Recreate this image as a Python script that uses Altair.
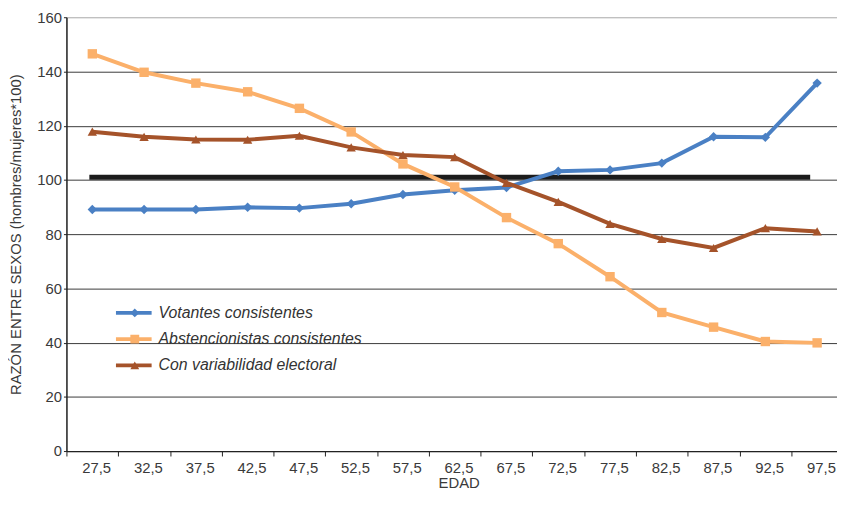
import altair as alt
import pandas as pd

edad = [27.5, 32.5, 37.5, 42.5, 47.5, 52.5, 57.5, 62.5,
        67.5, 72.5, 77.5, 82.5, 87.5, 92.5, 97.5]
votantes = [89.1, 89.1, 89.1, 89.9, 89.6, 91.2, 94.6, 96.2,
            97.2, 103.2, 103.7, 106.2, 115.9, 115.7, 135.7]
abstencionistas = [146.5, 139.7, 135.7, 132.5, 126.4, 117.7, 105.9, 97.4,
                   86.1, 76.5, 64.3, 51.1, 45.7, 40.4, 39.9]
variabilidad = [117.8, 115.9, 114.9, 114.8, 116.3, 112.0, 109.2, 108.4,
                98.9, 91.9, 83.8, 78.2, 74.9, 82.2, 81.0]
series = ["Votantes consistentes", "Abstencionistas consistentes", "Con variabilidad electoral"]
colores = ["#4a80c4", "#fbb06a", "#a5532a"]
formas = ["diamond", "square", "triangle-up"]
referencia = 101
y_ticks = [0, 20, 40, 60, 80, 100, 120, 140, 160]
x_ticks = [e - 2.5 for e in edad]          # band edges (25, 30, ... 95)

rows = []
for name, vals in zip(series, [votantes, abstencionistas, variabilidad]):
    for e, v in zip(edad, vals):
        rows.append({"edad": e, "serie": name, "valor": v})
df = pd.DataFrame(rows)
ref_df = pd.DataFrame({"inicio": [edad[0]], "fin": [edad[-1]], "valor": [referencia]})

FONT = "Liberation Sans"
TXT = "#3a3a3a"

x_scale = alt.Scale(domain=[25, 99.42], nice=False, zero=False)
y_scale = alt.Scale(domain=[0, 160], nice=False)

x_axis = alt.Axis(title="EDAD", values=x_ticks, tickSize=5, tickColor="#222",
                  domainColor="#222", domainWidth=1.2, labelAngle=0, labelFont=FONT,
                  labelFontSize=15, labelColor=TXT, labelPadding=5, labelOffset=30,
                  labelFlush=False, labelOverlap=False, labelBound=False,
                  labelExpr="replace(format(datum.value + 2.5, '.1f'), '.', ',')",
                  grid=False, titleFont=FONT, titleFontSize=15, titleFontWeight="normal",
                  titleColor=TXT, titlePadding=0, titleX=396)
y_axis = alt.Axis(title="RAZÓN ENTRE SEXOS (hombres/mujeres*100)", values=y_ticks,
                  tickSize=3, tickColor="#222", domainColor="#222", domainWidth=1.5,
                  labelFont=FONT, labelFontSize=15, labelColor=TXT, labelPadding=2,
                  grid=True, gridWidth=1,
                  gridColor={"condition": {"test": "datum.value === 160", "value": "#b5b5b5"},
                             "value": "#3a3a3a"},
                  titleFont=FONT, titleFontSize=15, titleFontWeight="normal",
                  titleColor=TXT, titlePadding=13)

color_scale = alt.Scale(domain=series, range=colores)
shape_scale = alt.Scale(domain=series, range=formas)

common_legend = dict(orient="none", legendX=48, legendY=290.5, title=None, padding=0,
                     labelFont=FONT, labelFontSize=16, labelFontStyle="italic",
                     labelColor="#333", rowPadding=10.5, clipHeight=16, labelLimit=0)

line_legend = alt.Legend(symbolType="stroke", symbolSize=1296, symbolStrokeWidth=4,
                         labelOffset=5, **common_legend)
point_legend = alt.Legend(symbolSize=80, symbolStrokeWidth=0, symbolOffset=13,
                          labelOffset=15, labelOpacity=0, **common_legend)

base = alt.Chart(df)

ref = alt.Chart(ref_df).mark_rule(color="#1c1c1c", strokeWidth=5, xOffset=-3, x2Offset=-7).encode(
    x=alt.X("inicio:Q", scale=x_scale, axis=x_axis),
    x2="fin:Q",
    y=alt.Y("valor:Q", scale=y_scale, axis=y_axis),
)

lines = base.mark_line(strokeWidth=4).encode(
    x=alt.X("edad:Q", scale=x_scale, axis=x_axis),
    y=alt.Y("valor:Q", scale=y_scale, axis=y_axis),
    color=alt.Color("serie:N", scale=color_scale, sort=series, legend=line_legend),
)

points = base.mark_point(filled=True, size=90, opacity=1).encode(
    x=alt.X("edad:Q", scale=x_scale, axis=x_axis),
    y=alt.Y("valor:Q", scale=y_scale, axis=y_axis),
    color=alt.Color("serie:N", scale=color_scale, sort=series, legend=point_legend),
    shape=alt.Shape("serie:N", scale=shape_scale, sort=series, legend=point_legend),
)

chart = alt.layer(ref, lines, points).resolve_legend(
    color="independent", shape="independent"
).properties(
    width=778, height=438,
    autosize=alt.AutoSizeParams(type="none"),
    padding={"left": 59, "top": 7, "right": 0, "bottom": 37},
).configure_view(stroke=None, fill="#dfe6f2").configure(background="white")

chart.save("out.html", embed_options={"renderer": "svg", "actions": False})
